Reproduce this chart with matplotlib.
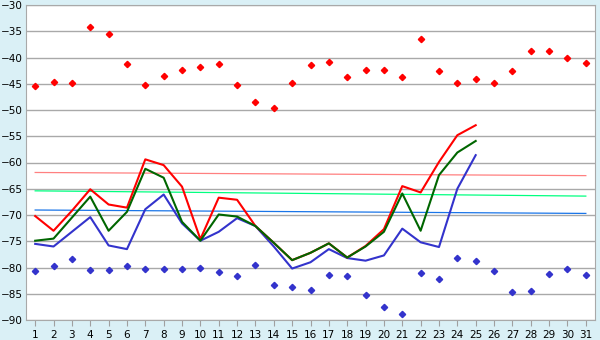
import matplotlib.pyplot as plt
import numpy as np

# Daily values for one month
days = np.arange(1, 32)

# scatter points: daily maximum and minimum
day_max = [-45.5, -44.7, -44.9, -34.1, -35.6, -41.3, -45.3, -43.6, -42.3, -41.9,
           -41.3, -45.3, -48.5, -49.7, -44.9, -41.5, -40.9, -43.8, -42.3, -42.4,
           -43.8, -36.5, -42.6, -44.9, -44.0, -44.9, -42.6, -38.8, -38.8, -40.0, -41.1]
day_min = [-80.7, -79.8, -78.4, -80.5, -80.5, -79.8, -80.3, -80.3, -80.2, -80.0,
           -80.9, -81.7, -79.6, -83.4, -83.8, -84.2, -81.5, -81.7, -85.3, -87.6,
           -88.9, -81.1, -82.1, -78.2, -78.8, -80.7, -84.7, -84.5, -81.3, -80.3, -81.5]

# lines, only first 25 days
line_days = np.arange(1, 26)
red_line = [-70.2, -73.0, -69.2, -65.1, -68.0, -68.6, -59.4, -60.5, -64.6, -74.6,
            -66.7, -67.1, -72.1, -75.3, -78.6, -77.2, -75.4, -78.1, -75.9, -72.7,
            -64.5, -65.7, -59.9, -54.8, -52.9]
green_line = [-74.9, -74.5, -70.5, -66.5, -73.0, -69.4, -61.2, -62.9, -71.3, -74.9,
              -69.9, -70.3, -72.1, -75.3, -78.6, -77.2, -75.4, -78.1, -76.0, -73.2,
              -65.9, -73.0, -62.4, -58.1, -55.9]
blue_line = [-75.5, -76.0, -73.2, -70.4, -75.8, -76.5, -68.9, -66.1, -71.6, -74.9,
             -73.2, -70.6, -72.1, -76.0, -80.2, -79.0, -76.5, -78.2, -78.7, -77.7,
             -72.6, -75.2, -76.1, -65.0, -58.6]

# reference lines (value at day 1 and day 31)
ref_days = [1, 31]
ref_red = [-61.9, -62.5]
ref_green = [-65.4, -66.4]
ref_blue = [-69.05, -69.7]

yticks = np.arange(-90, -29, 5)

fig = plt.figure(figsize=(6, 3.4), dpi=100, facecolor='#daf0f6')
ax = fig.add_axes([26/600, 1-320/340, 569/600, 315/340])
ax.set_facecolor('white')

ax.plot(ref_days, ref_red, color='#ff8080', lw=0.9)
ax.plot(ref_days, ref_green, color='#00ff80', lw=0.9)
ax.plot(ref_days, ref_blue, color='#1a75e8', lw=0.9)

ax.plot(line_days, blue_line, color='#3333cc', lw=1.5)
ax.plot(line_days, red_line, color='#ff0000', lw=1.5)
ax.plot(line_days, green_line, color='#006600', lw=1.5)

ax.plot(days, day_max, 'D', color='#ff0000', ms=3.2, ls='none')
ax.plot(days, day_min, 'D', color='#3333cc', ms=3.2, ls='none')

ax.set_xlim(0.5, 31.5)
ax.set_ylim(-90, -30)
ax.set_xticks(days)
ax.set_yticks(yticks)
ax.tick_params(labelsize=7.5, color='#a0a0a0', length=4)
ax.tick_params(axis='y', length=0, pad=2)
ax.grid(axis='y', color='#a9a9a9', lw=1)
ax.set_axisbelow(True)
for s in ax.spines.values():
    s.set_color('#a9a9a9')

plt.savefig('out.png', facecolor=fig.get_facecolor())
